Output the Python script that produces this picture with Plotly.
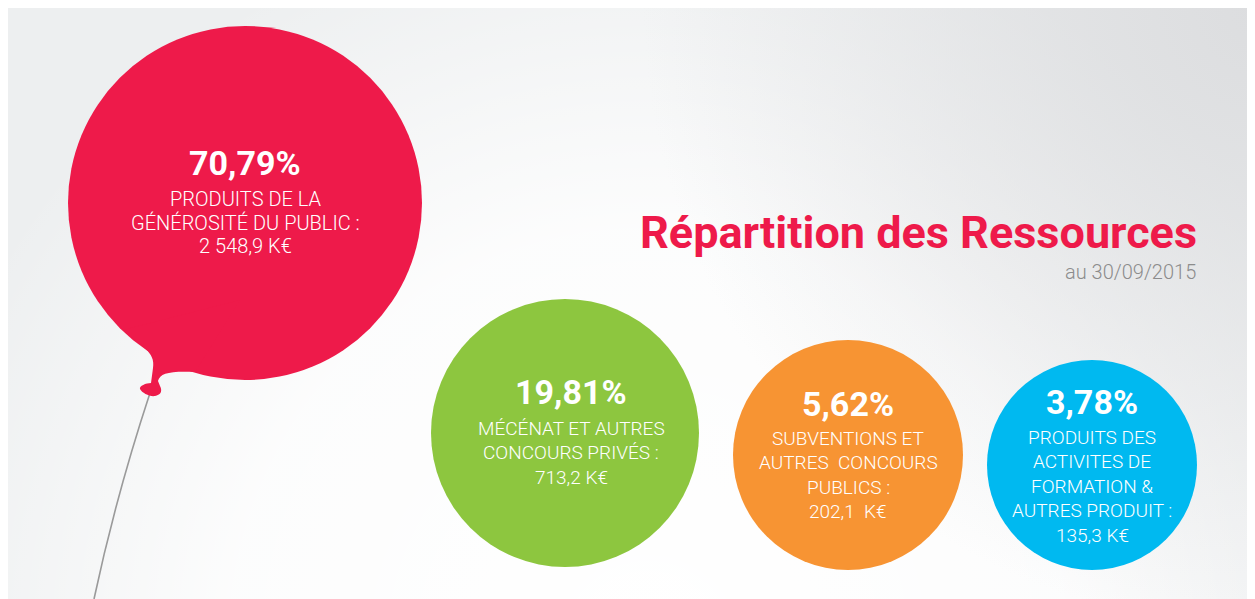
import base64
import plotly.graph_objects as go

# ---- data ----
percents = ["70,79%", "19,81%", "5,62%", "3,78%"]
labels = [
    ["PRODUITS DE LA", "GÉNÉROSITÉ DU PUBLIC :"],
    ["MÉCÉNAT ET AUTRES", "CONCOURS PRIVÉS :"],
    ["SUBVENTIONS ET", "AUTRES  CONCOURS", "PUBLICS :"],
    ["PRODUITS DES", "ACTIVITES DE", "FORMATION &", "AUTRES PRODUIT :"],
]
amounts = ["2 548,9 K€", "713,2 K€", "202,1  K€", "135,3 K€"]
title = "Répartition des Ressources"
subtitle = "au 30/09/2015"

# ---- layout / style (page pixel coordinates; figure sits at page offset 8,8) ----
OFF = 8
W, H = 1255, 599
colors = ["#EE1A4A", "#8DC63F", "#F79433", "#00B9F0"]
cx = [245, 565, 848, 1092]
cy = [203, 433, 455, 465]
rad = [177, 134, 115, 105]
pct_y = [163, 392, 404, 402]
lab_y0 = [199, 428, 438, 437]
lab_dy = [23.5, 24.5, 24.6, 24.5]
txt_x = [245, 571, 848, 1092]
pct_size = [34, 34, 34, 34]
lab_size = [20, 19, 19, 19]

bg_svg = '''<svg xmlns="http://www.w3.org/2000/svg" width="1255" height="599" viewBox="0 0 1255 599">
<defs>
<radialGradient id="w" cx="640" cy="640" r="760" gradientUnits="userSpaceOnUse">
<stop offset="0" stop-color="#ffffff" stop-opacity="1"/>
<stop offset="0.55" stop-color="#ffffff" stop-opacity="0.85"/>
<stop offset="1" stop-color="#ffffff" stop-opacity="0"/>
</radialGradient>
<radialGradient id="d" cx="1255" cy="0" r="620" gradientUnits="userSpaceOnUse">
<stop offset="0" stop-color="#dcdddf" stop-opacity="1"/>
<stop offset="1" stop-color="#dcdddf" stop-opacity="0"/>
</radialGradient>
</defs>
<rect width="1255" height="599" fill="#edeff0"/>
<rect width="1255" height="599" fill="url(#w)"/>
<rect width="1255" height="599" fill="url(#d)"/>
</svg>'''
bg_uri = "data:image/svg+xml;base64," + base64.b64encode(bg_svg.encode()).decode()

fig = go.Figure()
fig.add_trace(go.Scatter(x=[OFF, OFF + W], y=[OFF, OFF + H], mode="markers",
                         marker=dict(opacity=0), hoverinfo="skip", showlegend=False))

shapes = []
# balloon string
shapes.append(dict(type="path", path="M 150,393 Q 116,496 94,599",
                   line=dict(color="#9a9a9a", width=1.6), layer="above"))
for i in range(4):
    shapes.append(dict(type="circle", x0=cx[i] - rad[i], x1=cx[i] + rad[i],
                       y0=cy[i] - rad[i], y1=cy[i] + rad[i],
                       fillcolor=colors[i], line=dict(width=0), layer="above"))
# balloon neck and knot
neck = ("M 123,330 C 140,345 156,352 153,368 L 151,383 "
        "C 146,383 139,386 140,389 C 142,393 150,397 155,396 "
        "C 160,395 163,392 160,386 L 158,381 "
        "C 160,373 170,371 195,372 L 240,300 Z")
shapes.append(dict(type="path", path=neck, fillcolor=colors[0],
                   line=dict(width=0), layer="above"))

annotations = []
for i in range(4):
    annotations.append(dict(x=txt_x[i], y=pct_y[i], text=f"<b>{percents[i]}</b>",
                            showarrow=False, xanchor="center", yanchor="middle",
                            font=dict(family="Roboto", size=pct_size[i], color="white")))
    lines = labels[i] + [amounts[i]]
    for j, line in enumerate(lines):
        annotations.append(dict(x=txt_x[i], y=lab_y0[i] + j * lab_dy[i], text=line,
                                showarrow=False, xanchor="center", yanchor="middle",
                                font=dict(family="Roboto", size=lab_size[i],
                                          color="white", weight=300)))
annotations.append(dict(x=1199, y=232, text=f"<b>{title}</b>", showarrow=False,
                        xanchor="right", yanchor="middle",
                        font=dict(family="Roboto", size=45, color="#EE1A4A")))
annotations.append(dict(x=1198, y=272, text=subtitle, showarrow=False,
                        xanchor="right", yanchor="middle",
                        font=dict(family="Roboto", size=20, color="#8c8c8c", weight=300)))

fig.update_layout(
    width=W, height=H, autosize=False,
    margin=dict(l=0, r=0, t=0, b=0, pad=0),
    paper_bgcolor="white", plot_bgcolor="rgba(0,0,0,0)",
    xaxis=dict(range=[OFF, OFF + W], visible=False, fixedrange=True),
    yaxis=dict(range=[OFF + H, OFF], visible=False, fixedrange=True),
    shapes=shapes, annotations=annotations,
    images=[dict(source=bg_uri, xref="paper", yref="paper",
                 x=0, y=1, sizex=1, sizey=1,
                 xanchor="left", yanchor="top", sizing="stretch", layer="below")],
    showlegend=False,
)
fig.write_html("out.html", config={"displayModeBar": False})
